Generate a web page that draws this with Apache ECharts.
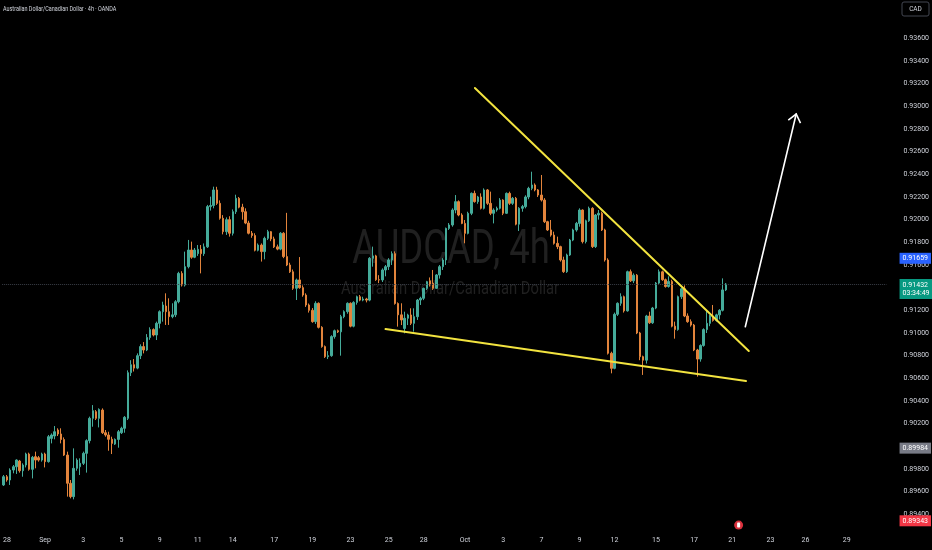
<!DOCTYPE html>
<html><head><meta charset="utf-8">
<style>html,body{margin:0;padding:0;background:#000}#c{width:932px;height:550px}</style>
<script src="https://cdn.jsdelivr.net/npm/echarts@6/dist/echarts.min.js"></script>
</head><body><div id="c"></div>
<script>
// ---- data (AUDCAD 4h, OANDA) ----
const opens = [
.89659,.89732,.89703,.89791,.89820,.89870,.89785,.89835,.89932,.89797,
.89909,.89900,.89879,.89932,.89865,.90070,.90091,.90144,.90109,.90060,
.89923,.89674,.89556,.89806,.89820,.89850,.89938,.90050,.90247,.90306,
.90247,.90320,.90120,.90100,.90062,.90020,.90061,.90120,.90159,.90247,
.90650,.90720,.90690,.90800,.90880,.90850,.90960,.91030,.90982,.91085,
.91188,.91238,.91188,.91144,.91160,.91276,.91526,.91423,.91585,.91732,
.91668,.91700,.91738,.91700,.91760,.92115,.92125,.92262,.92144,.92012,
.91894,.92000,.91880,.92070,.92188,.92110,.92070,.91970,.91880,.91860,
.91730,.91776,.91718,.91835,.91894,.91830,.91760,.91740,.91880,.91674,
.91600,.91540,.91394,.91468,.91400,.91335,.91247,.91200,.91100,.91262,
.91050,.90880,.90791,.90800,.90968,.91020,.91010,.91144,.91188,.91262,
.91060,.91270,.91320,.91290,.91300,.91290,.91659,.91680,.91470,.91468,
.91556,.91585,.91644,.91700,.91260,.91160,.91040,.91130,.91159,.91085,
.91144,.91291,.91306,.91394,.91460,.91440,.91394,.91512,.91585,.91644,
.91923,.91953,.92085,.92159,.92041,.91967,.91879,.92056,.92232,.92159,
.92200,.92100,.92262,.92144,.92056,.92085,.92100,.92173,.92056,.92232,
.92144,.92188,.91960,.92100,.92115,.92200,.92276,.92306,.92262,.92217,
.92173,.91982,.91909,.91864,.91791,.91762,.91644,.91541,.91688,.91820,
.91909,.91967,.92085,.91806,.91990,.92100,.91762,.92041,.92056,.91909,
.91644,.90821,.90688,.91165,.91262,.91320,.91195,.91541,.91460,.91510,
.91000,.90791,.90760,.91150,.91090,.91220,.91440,.91540,.91470,.91410,
.91455,.91060,.91030,.91320,.91390,.91150,.91100,.91070,.90850,.90770,
.90890,.91030,.91085,.91150,.91110,.91160,.91200,.91380];
const closes = [
.89732,.89703,.89791,.89820,.89879,.89785,.89835,.89932,.89797,.89903,
.89879,.89879,.89932,.89865,.90085,.90100,.90129,.90109,.90060,.89923,
.89674,.89556,.89806,.89879,.89850,.89938,.90050,.90247,.90314,.90247,
.90326,.90120,.90100,.90062,.90026,.90061,.90129,.90159,.90256,.90650,
.90720,.90690,.90800,.90880,.90850,.90960,.91030,.90982,.91085,.91188,
.91247,.91188,.91144,.91160,.91276,.91526,.91423,.91585,.91732,.91668,
.91732,.91738,.91700,.91760,.92115,.92125,.92262,.92144,.92012,.91894,
.92000,.91880,.92070,.92188,.92110,.92070,.91970,.91880,.91860,.91730,
.91776,.91718,.91835,.91894,.91830,.91760,.91740,.91880,.91674,.91600,
.91540,.91394,.91468,.91400,.91335,.91247,.91200,.91100,.91262,.91050,
.90880,.90791,.90800,.90968,.91020,.91010,.91144,.91188,.91262,.91060,
.91270,.91320,.91290,.91300,.91290,.91659,.91680,.91470,.91468,.91556,
.91585,.91644,.91700,.91260,.91160,.91115,.91130,.91159,.91085,.91144,
.91291,.91306,.91394,.91453,.91423,.91394,.91512,.91585,.91644,.91923,
.91953,.92085,.92159,.92041,.91967,.91879,.92056,.92232,.92159,.92200,
.92100,.92262,.92144,.92056,.92085,.92100,.92173,.92056,.92232,.92144,
.92188,.91960,.92100,.92115,.92200,.92276,.92306,.92262,.92217,.92173,
.91982,.91909,.91864,.91791,.91762,.91644,.91541,.91688,.91820,.91909,
.91967,.92085,.91806,.91990,.92100,.91762,.92041,.92056,.91909,.91644,
.90821,.90688,.91165,.91262,.91320,.91195,.91541,.91460,.91510,.91000,
.90791,.90760,.91150,.91090,.91220,.91440,.91540,.91470,.91410,.91455,
.91060,.91030,.91320,.91390,.91150,.91100,.91070,.90850,.90770,.90890,
.91030,.91085,.91150,.91110,.91160,.91200,.91380,.91432];
const lows = [
.89650,.89688,.89659,.89762,.89756,.89768,.89732,.89814,.89785,.89717,
.89806,.89865,.89865,.89814,.89856,.90026,.90062,.90091,.90026,.89915,
.89556,.89541,.89532,.89785,.89747,.89835,.89768,.90026,.90173,.90232,
.90167,.90109,.90085,.89961,.89932,.90012,.89988,.90109,.90120,.90232,
.90620,.90660,.90680,.90770,.90820,.90840,.90940,.90970,.90938,.91041,
.91100,.91071,.91071,.91130,.91140,.91262,.91410,.91410,.91570,.91655,
.91660,.91680,.91526,.91680,.91750,.92080,.92100,.92130,.92000,.91870,
.91865,.91850,.91860,.92050,.92100,.92000,.91960,.91870,.91840,.91720,
.91720,.91630,.91650,.91820,.91810,.91750,.91730,.91730,.91660,.91590,
.91530,.91380,.91291,.91390,.91320,.91230,.91180,.91090,.91080,.91040,
.90870,.90780,.90770,.90790,.90950,.91000,.90800,.91130,.91170,.91050,
.91050,.91250,.91280,.91280,.91270,.91280,.91585,.91460,.91440,.91450,
.91500,.91556,.91600,.91250,.91056,.91070,.90997,.91070,.91070,.91012,
.91115,.91247,.91290,.91380,.91410,.91380,.91390,.91480,.91556,.91600,
.91909,.91938,.92056,.92030,.91960,.91791,.91870,.92040,.92150,.92140,
.92090,.92090,.92130,.92040,.91967,.92070,.92090,.92040,.92050,.92130,
.92130,.91950,.91900,.92070,.92100,.92180,.92260,.92250,.92200,.92160,
.91970,.91900,.91850,.91780,.91740,.91630,.91530,.91530,.91680,.91810,
.91894,.91938,.91790,.91790,.91980,.91750,.91750,.92000,.91900,.91630,
.90810,.90644,.90680,.91150,.91240,.91180,.91188,.91450,.91440,.90990,
.90760,.90630,.90730,.91080,.91080,.91210,.91430,.91460,.91400,.91400,
.91050,.90950,.91020,.91300,.91140,.91090,.91056,.90840,.90615,.90747,
.90879,.91000,.91060,.91100,.91100,.91120,.91190,.91370];
const highs = [
.89747,.89747,.89806,.89835,.89885,.89880,.89850,.89944,.89944,.89915,
.89953,.89915,.89944,.89944,.90100,.90114,.90179,.90159,.90159,.90079,
.89953,.89703,.89982,.89894,.89894,.89953,.90062,.90262,.90364,.90320,
.90335,.90335,.90144,.90129,.90085,.90070,.90144,.90173,.90267,.90670,
.90760,.90770,.90820,.90900,.90920,.90990,.91050,.91041,.91100,.91200,
.91276,.91350,.91306,.91262,.91290,.91540,.91545,.91718,.91821,.91806,
.91750,.91776,.91776,.91790,.92130,.92203,.92291,.92290,.92170,.92040,
.92020,.92030,.92090,.92220,.92200,.92140,.92100,.91990,.91900,.91880,
.91790,.91790,.91850,.91910,.91900,.91850,.91780,.91890,.91890,.92060,
.91620,.91560,.91480,.91670,.91420,.91350,.91260,.91220,.91280,.91270,
.91060,.90890,.90840,.90980,.91030,.91030,.91160,.91200,.91270,.91270,
.91280,.91330,.91335,.91320,.91310,.91670,.91762,.91690,.91510,.91570,
.91600,.91660,.91720,.91720,.91270,.91262,.91188,.91170,.91218,.91218,
.91300,.91320,.91400,.91460,.91490,.91556,.91520,.91600,.91660,.91930,
.91970,.92100,.92217,.92170,.92056,.91997,.92070,.92240,.92256,.92210,
.92232,.92276,.92270,.92247,.92100,.92115,.92190,.92180,.92240,.92247,
.92200,.92200,.92110,.92130,.92215,.92290,.92423,.92320,.92270,.92394,
.92190,.91990,.91997,.91894,.91850,.91770,.91673,.91700,.91830,.91920,
.91980,.92100,.92090,.92000,.92115,.92110,.92050,.92085,.92070,.91920,
.91659,.90835,.91180,.91270,.91350,.91330,.91550,.91560,.91526,.91520,
.91010,.90800,.91160,.91188,.91230,.91450,.91560,.91550,.91480,.91500,
.91470,.91100,.91330,.91400,.91420,.91173,.91120,.91080,.90860,.90900,
.91041,.91203,.91160,.91247,.91170,.91210,.91482,.91440];

// price scale labels on the right
const priceMarkers = [
  {value: 0.91659, kind: 'blue'},
  {value: 0.89984, kind: 'grey'},
  {value: 0.89343, kind: 'red'}
];
const countdown = '03:34:49';

// time axis tick labels (trading day -> label)
const tickDays  = ['2025-08-28','2025-09-01','2025-09-03','2025-09-05','2025-09-09','2025-09-11','2025-09-14','2025-09-17','2025-09-19','2025-09-23','2025-09-25','2025-09-28','2025-10-01','2025-10-03','2025-10-07','2025-10-09','2025-10-12','2025-10-15','2025-10-17','2025-10-21','2025-10-23','2025-10-26','2025-10-29'];
const tickTexts = ['28','Sep','3','5','9','11','14','17','19','23','25','28','Oct','3','7','9','12','15','17','21','23','26','29'];

// drawings: [barIndex, price] endpoints
const upperTrend = [148.1, 0.93162, 234.2, 0.90841];
const lowerTrend = [120.0, 0.91035, 233.3, 0.90576];
const arrowPath  = [233.1, 0.91055, 249.1, 0.92932];
const eventMark  = [231, 0.89305];

const TOTAL_BARS = 278;

// ---- build 4h bar times: Mon-Thu 6 bars, Fri 5, Sun 1 ----
function pad(n){return (n<10?'0':'')+n;}
function buildBars(n){
  const out=['2025-08-27 20:00'];
  let d=Date.UTC(2025,7,28);
  while(out.length<n){
    const dt=new Date(d), dow=dt.getUTCDay();
    const hrs = (dow>=1&&dow<=4)?[0,4,8,12,16,20]:(dow===5?[0,4,8,12,16]:(dow===0?[20]:[]));
    const ds=dt.getUTCFullYear()+'-'+pad(dt.getUTCMonth()+1)+'-'+pad(dt.getUTCDate());
    hrs.forEach(h=>{ if(out.length<n) out.push(ds+' '+pad(h)+':00'); });
    d+=86400000;
  }
  return out;
}
const bars = buildBars(TOTAL_BARS);
const labelMap = new Map();
tickDays.forEach((day,i)=>{ const b=bars.find(s=>s.indexOf(day)===0); if(b) labelMap.set(b,tickTexts[i]); });

const candleData = opens.map((o,i)=>[o, closes[i], lows[i], highs[i]]);
const lastClose = closes[closes.length-1];

const FONT='Roboto';
const markerColors={blue:'#2962ff',grey:'#787b86',red:'#f23645'};

function segRender(color,width,arrow){
  return function(params,api){
    const a=api.coord([api.value(0),api.value(1)]);
    const b=api.coord([api.value(2),api.value(3)]);
    const ch=[{type:'line',shape:{x1:a[0],y1:a[1],x2:b[0],y2:b[1]},style:{stroke:color,lineWidth:width,lineCap:'round'}}];
    if(arrow){
      const ang=Math.atan2(b[1]-a[1],b[0]-a[0]), L=10, s=0.68;
      ch.push({type:'polyline',shape:{points:[[b[0]-L*Math.cos(ang-s),b[1]-L*Math.sin(ang-s)],[b[0],b[1]],[b[0]-L*Math.cos(ang+s),b[1]-L*Math.sin(ang+s)]]},style:{stroke:color,lineWidth:width,fill:null,lineJoin:'miter'}});
    }
    return {type:'group',children:ch};
  };
}

const markLineData = [];
markLineData.push({yAxis:lastClose,lineStyle:{type:'dotted',color:'#3a3e47',width:1},
  label:{backgroundColor:'#089981',formatter:lastClose.toFixed(5)+'\n'+countdown,lineHeight:8,offset:[0,5]}});
priceMarkers.forEach(m=>{
  markLineData.push({yAxis:m.value,lineStyle:{color:'rgba(0,0,0,0)',width:0},
    label:{backgroundColor:markerColors[m.kind],formatter:m.value.toFixed(5)}});
});

const chart=echarts.init(document.getElementById('c'),null,{renderer:'canvas'});
chart.setOption({
  backgroundColor:'#000000',
  animation:false,
  textStyle:{fontFamily:FONT},
  grid:{left:-1.5,right:44,top:0,height:537},
  xAxis:[{
    type:'category',data:bars,boundaryGap:true,
    axisLine:{show:false},axisTick:{show:false},splitLine:{show:false},
    axisLabel:{color:'#d1d4dc',fontSize:7,fontFamily:FONT,margin:0,
      interval:(i,v)=>labelMap.has(v),formatter:(v)=>labelMap.get(v)||''}
  },{
    type:'value',min:-0.5,max:TOTAL_BARS-0.5,show:false
  }],
  yAxis:{
    type:'value',position:'right',min:0.892,max:0.93938,interval:0.002,scale:true,
    axisLine:{show:false},axisTick:{show:false},splitLine:{show:false},
    axisLabel:{color:'#d1d4dc',fontSize:7,fontFamily:FONT,margin:17,align:'left',
      formatter:(v)=>(v>0.9375||v<0.893)?'':v.toFixed(5)}
  },
  graphic:[
    {type:'text',x:451,y:251,z:0,scaleX:0.76,silent:true,
      style:{text:'AUDCAD, 4h',fontSize:48,fontFamily:FONT,fill:'#202020',textAlign:'center',textVerticalAlign:'middle'}},
    {type:'text',x:450,y:289,z:0,scaleX:0.82,silent:true,
      style:{text:'Australian Dollar/Canadian Dollar',fontSize:18,fontFamily:FONT,fill:'#202020',textAlign:'center',textVerticalAlign:'middle'}},
    {type:'text',x:3,y:9,z:10,scaleX:0.78,silent:true,
      style:{text:'Australian Dollar/Canadian Dollar · 4h · OANDA',fontSize:7,fontFamily:FONT,fill:'#d1d4dc',textAlign:'left',textVerticalAlign:'middle'}},
    {type:'rect',x:902,y:2,z:10,shape:{width:27,height:14,r:2},style:{fill:'#000',stroke:'#434651',lineWidth:1}},
    {type:'text',x:915.5,y:9,z:11,style:{text:'CAD',fontSize:6.5,fontFamily:FONT,fill:'#d1d4dc',textAlign:'center',textVerticalAlign:'middle'}}
  ],
  series:[{
    type:'candlestick',data:candleData,barWidth:2,
    itemStyle:{color:'#45ab9a',color0:'#e2843c',borderColor:'#45ab9a',borderColor0:'#e2843c',borderWidth:1},
    markPoint:{silent:true,animation:false,data:[
      {coord:eventMark,symbol:'circle',symbolSize:9,itemStyle:{color:'#d8303c'},label:{show:false}},
      {coord:eventMark,symbol:'roundRect',symbolSize:[3,5],itemStyle:{color:'#ffffff'},label:{show:false}}
    ]}
  },{
    type:'line',xAxisIndex:0,yAxisIndex:0,data:[],z:6,silent:true,
    markLine:{silent:true,symbol:['none','none'],animation:false,precision:5,
      label:{show:true,position:'end',distance:13,padding:[2,3],fontSize:7,fontFamily:FONT,color:'#ffffff',opacity:1},
      data:markLineData}
  },{
    type:'custom',coordinateSystem:'cartesian2d',xAxisIndex:1,yAxisIndex:0,z:5,silent:true,clip:false,
    data:[upperTrend,lowerTrend],renderItem:segRender('#f2e33f',2,false)
  },{
    type:'custom',coordinateSystem:'cartesian2d',xAxisIndex:1,yAxisIndex:0,z:5,silent:true,clip:false,
    data:[arrowPath],renderItem:segRender('#ffffff',1.6,true)
  }]
});
</script></body></html>
